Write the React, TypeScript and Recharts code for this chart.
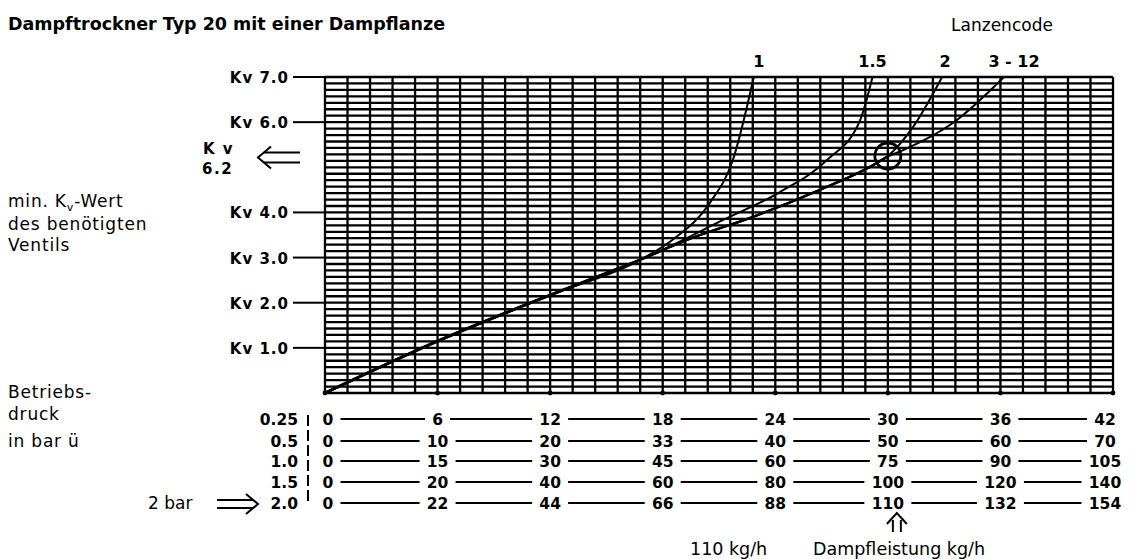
import React from "react";
import {
  LineChart,
  Line,
  XAxis,
  YAxis,
  CartesianGrid,
  ReferenceDot,
} from "recharts";

// Kv-Werte (y) und Dampfleistung bei 2 bar in kg/h (x)
const kvLabels = [1, 2, 3, 4, 6, 7];
const pressures = ["0.25", "0.5", "1.0", "1.5", "2.0"];
const flow025 = [0, 6, 12, 18, 24, 30, 36, 42];
const flow05 = [0, 10, 20, 33, 40, 50, 60, 70];
const flow10 = [0, 15, 30, 45, 60, 75, 90, 105];
const flow15 = [0, 20, 40, 60, 80, 100, 120, 140];
const flow20 = [0, 22, 44, 66, 88, 110, 132, 154];
const flowRows = [flow025, flow05, flow10, flow15, flow20];

const common = [
  { kg: 0, kv: 0 },
  { kg: 21, kv: 1.1 },
  { kg: 44, kv: 2.17 },
  { kg: 61.6, kv: 2.95 },
];
const shared = [
  ...common,
  { kg: 70.7, kv: 3.39 },
  { kg: 83.6, kv: 3.9 },
  { kg: 96.7, kv: 4.5 },
  { kg: 106.5, kv: 5.01 },
  { kg: 109.8, kv: 5.23 },
];
const lance1 = [
  ...common,
  { kg: 68, kv: 3.4 },
  { kg: 75.2, kv: 4.21 },
  { kg: 79.7, kv: 5.16 },
  { kg: 83.8, kv: 7 },
];
const lance15 = [
  ...common,
  { kg: 67.4, kv: 3.25 },
  { kg: 77.2, kv: 3.8 },
  { kg: 88.9, kv: 4.45 },
  { kg: 98.1, kv: 5.16 },
  { kg: 104.6, kv: 6.05 },
  { kg: 107, kv: 7 },
];
const lance2 = [...shared, { kg: 114.9, kv: 5.89 }, { kg: 120.6, kv: 7 }];
const lance312 = [
  ...shared,
  { kg: 113, kv: 5.38 },
  { kg: 122.7, kv: 5.98 },
  { kg: 132.7, kv: 7 },
];
const lanceNames = ["1", "1.5", "2", "3 - 12"];
const lanceEnds = [83.8, 107, 120.6, 132.7];
const selected = { kg: 110, kv: 5.25 };

const W = 1144;
const H = 559;
const PLOT_L = 325;
const PLOT_R = 1113;
const PLOT_T = 77;
const PLOT_B = 393;
const Y_AXIS_W = 130;
const X_AXIS_H = 150;
const COL_W = (PLOT_R - PLOT_L) / 7;
const FONT = "'DejaVu Sans', sans-serif";
const GRID_W = 2.3;

const xGrid = Array.from({ length: 36 }, (_, i) => (i * 154) / 35);
const yGrid = Array.from({ length: 50 }, (_, k) => k / 7);
const rowOffsets = [26, 48, 68, 89, 110];

const numWidth = (v: number) => String(v).length * 11;

const XTick = (props: any) => {
  const { x, y, payload } = props;
  const j = Math.round(payload.value / 4.4);
  // senkrechte Rasterlinie an jedem Tick
  const gridLine = (
    <line x1={x} x2={x} y1={y} y2={y - (PLOT_B - PLOT_T)} stroke="#000" strokeWidth={GRID_W} />
  );
  if (j % 5 !== 0) return <g>{gridLine}</g>;
  const col = j / 5;
  const shift = col === 0 ? 3 : col === 7 ? -8 : 0;
  return (
    <g fontFamily={FONT} fontSize={15.5} fontWeight="bold" fill="#000">
      {gridLine}
      <circle cx={x} cy={y} r={2.4} fill="#000" />
      {flowRows.map((row, r) => {
        const cy = y + rowOffsets[r];
        const v = row[col];
        const next = row[col + 1];
        return (
          <g key={r}>
            <text x={x + shift} y={cy + 6} textAnchor="middle">
              {v}
            </text>
            {next !== undefined && (
              <line
                x1={x + shift + numWidth(v) / 2 + 7}
                x2={x + COL_W + (col === 6 ? -8 : 0) - numWidth(next) / 2 - 7}
                y1={cy}
                y2={cy}
                stroke="#000"
                strokeWidth={2}
              />
            )}
            {col === 0 && (
              <text x={x - 27} y={cy + 6} textAnchor="end">
                {pressures[r]}
              </text>
            )}
          </g>
        );
      })}
      {col === 0 && (
        <g>
          <line
            x1={x - 17}
            x2={x - 17}
            y1={y + 22}
            y2={y + 110}
            stroke="#000"
            strokeWidth={2}
            strokeDasharray="11 4"
          />
          <line x1={x - 108} x2={x - 72} y1={y + 107} y2={y + 107} stroke="#000" strokeWidth={2} />
          <line x1={x - 108} x2={x - 72} y1={y + 115} y2={y + 115} stroke="#000" strokeWidth={2} />
          <path
            d={`M ${x - 79} ${y + 101} L ${x - 67} ${y + 111} L ${x - 79} ${y + 121}`}
            fill="none"
            stroke="#000"
            strokeWidth={2}
          />
          <text x={x - 177} y={y + 116} fontSize={17} fontWeight="normal">
            2 bar
          </text>
        </g>
      )}
    </g>
  );
};

const YTick = (props: any) => {
  const { x, y, payload } = props;
  const k = Math.round(payload.value * 7);
  if (k % 7 !== 0 || !kvLabels.includes(k / 7)) return <g />;
  return (
    <g>
      <line x1={x - 32} x2={x} y1={y} y2={y} stroke="#000" strokeWidth={2} />
      <text
        x={x - 36}
        y={y + 6}
        textAnchor="end"
        fontFamily={FONT}
        fontSize={15}
        fontWeight="bold"
        letterSpacing={1}
        fill="#000"
      >
        {`Kv ${(k / 7).toFixed(1)}`}
      </text>
    </g>
  );
};

const KvMarker = (props: any) => {
  const { cy } = props;
  const c = cy + 1.5;
  return (
    <g fontFamily={FONT} fontSize={15} fontWeight="bold" fill="#000">
      <text x={203} y={cy - 2} letterSpacing={1.5}>
        K v
      </text>
      <text x={202} y={cy + 18} letterSpacing={1.5}>
        6.2
      </text>
      <line x1={264} x2={300} y1={c - 5} y2={c - 5} stroke="#000" strokeWidth={2} />
      <line x1={264} x2={300} y1={c + 5} y2={c + 5} stroke="#000" strokeWidth={2} />
      <path
        d={`M 271 ${c - 11} L 258 ${c} L 271 ${c + 11}`}
        fill="none"
        stroke="#000"
        strokeWidth={2}
      />
    </g>
  );
};

const FlowMarker = (props: any) => {
  const { cx, cy } = props;
  const ax = cx + 9;
  return (
    <g fontFamily={FONT} fill="#000">
      <line x1={ax - 4} x2={ax - 4} y1={cy + 127} y2={cy + 139} stroke="#000" strokeWidth={2} />
      <line x1={ax + 4} x2={ax + 4} y1={cy + 127} y2={cy + 139} stroke="#000" strokeWidth={2} />
      <path
        d={`M ${ax - 10} ${cy + 131} L ${ax} ${cy + 120} L ${ax + 10} ${cy + 131}`}
        fill="none"
        stroke="#000"
        strokeWidth={2}
      />
      <text x={690} y={cy + 162} fontSize={17.5}>
        110 kg/h
      </text>
    </g>
  );
};

const lanceLabel = (name: string, dx: number) => (props: any) => (
  <text
    x={props.cx + dx}
    y={props.cy - 10}
    textAnchor="middle"
    fontFamily={FONT}
    fontSize={16}
    fontWeight="bold"
    fill="#000"
  >
    {name}
  </text>
);
const labelShift = [5, 0, 3, 10];

export default function App() {
  return (
    <div style={{ position: "absolute", left: 0, top: 0, width: W, height: H, background: "#fff" }}>
      <LineChart
        width={W}
        height={H}
        margin={{
          top: PLOT_T,
          right: W - PLOT_R,
          left: PLOT_L - Y_AXIS_W,
          bottom: H - PLOT_B - X_AXIS_H,
        }}
      >
        <CartesianGrid stroke="#000" strokeWidth={GRID_W} vertical={false} />
        <XAxis
          type="number"
          dataKey="kg"
          domain={[0, 154]}
          ticks={xGrid}
          interval={0}
          height={X_AXIS_H}
          axisLine={false}
          tickLine={false}
          tickSize={0}
          tickMargin={0}
          tick={XTick}
        />
        <YAxis
          type="number"
          domain={[0, 7]}
          ticks={yGrid}
          interval={0}
          width={Y_AXIS_W}
          axisLine={false}
          tickLine={false}
          tickSize={0}
          tickMargin={0}
          tick={YTick}
        />
        <Line data={common} dataKey="kv" type="monotone" stroke="#000" strokeWidth={3} dot={false} isAnimationActive={false} />
        <Line data={shared} dataKey="kv" type="monotone" stroke="#000" strokeWidth={2.4} dot={false} isAnimationActive={false} />
        <Line data={lance1} dataKey="kv" type="monotone" stroke="#000" strokeWidth={2} dot={false} isAnimationActive={false} />
        <Line data={lance15} dataKey="kv" type="monotone" stroke="#000" strokeWidth={2} dot={false} isAnimationActive={false} />
        <Line data={lance2} dataKey="kv" type="monotone" stroke="#000" strokeWidth={2} dot={false} isAnimationActive={false} />
        <Line data={lance312} dataKey="kv" type="monotone" stroke="#000" strokeWidth={2} dot={false} isAnimationActive={false} />
        <ReferenceDot
          x={selected.kg}
          y={selected.kv}
          r={13}
          fill="none"
          stroke="#000"
          strokeWidth={2.8}
        />
        <ReferenceDot x={0} y={selected.kv} r={0} shape={KvMarker} ifOverflow="visible" />
        <ReferenceDot x={selected.kg} y={0} r={0} shape={FlowMarker} ifOverflow="visible" />
        {lanceNames.map((n, i) => (
          <ReferenceDot
            key={n}
            x={lanceEnds[i]}
            y={7}
            r={0}
            shape={lanceLabel(n, labelShift[i])}
            ifOverflow="visible"
          />
        ))}
      </LineChart>
      <svg
        width={W}
        height={H}
        style={{ position: "absolute", left: 0, top: 0, pointerEvents: "none" }}
        fontFamily={FONT}
        fill="#000"
      >
        <text x={8} y={30} fontSize={17.5} fontWeight="bold">
          Dampftrockner Typ 20 mit einer Dampflanze
        </text>
        <text x={1002} y={31} fontSize={17} textAnchor="middle">
          Lanzencode
        </text>
        <text x={8} y={207} fontSize={17} letterSpacing={0.8}>
          min. K<tspan fontSize={11} dy={4}>v</tspan>
          <tspan dy={-4}>-Wert</tspan>
        </text>
        <text x={8} y={230} fontSize={17} letterSpacing={0.8}>
          des benötigten
        </text>
        <text x={8} y={251} fontSize={17} letterSpacing={0.8}>
          Ventils
        </text>
        <text x={8} y={398} fontSize={17} letterSpacing={0.8}>
          Betriebs-
        </text>
        <text x={8} y={420} fontSize={17} letterSpacing={0.8}>
          druck
        </text>
        <text x={8} y={447} fontSize={17} letterSpacing={0.8}>
          in bar ü
        </text>
        <text x={813} y={555} fontSize={17.5}>
          Dampfleistung kg/h
        </text>
      </svg>
    </div>
  );
}
